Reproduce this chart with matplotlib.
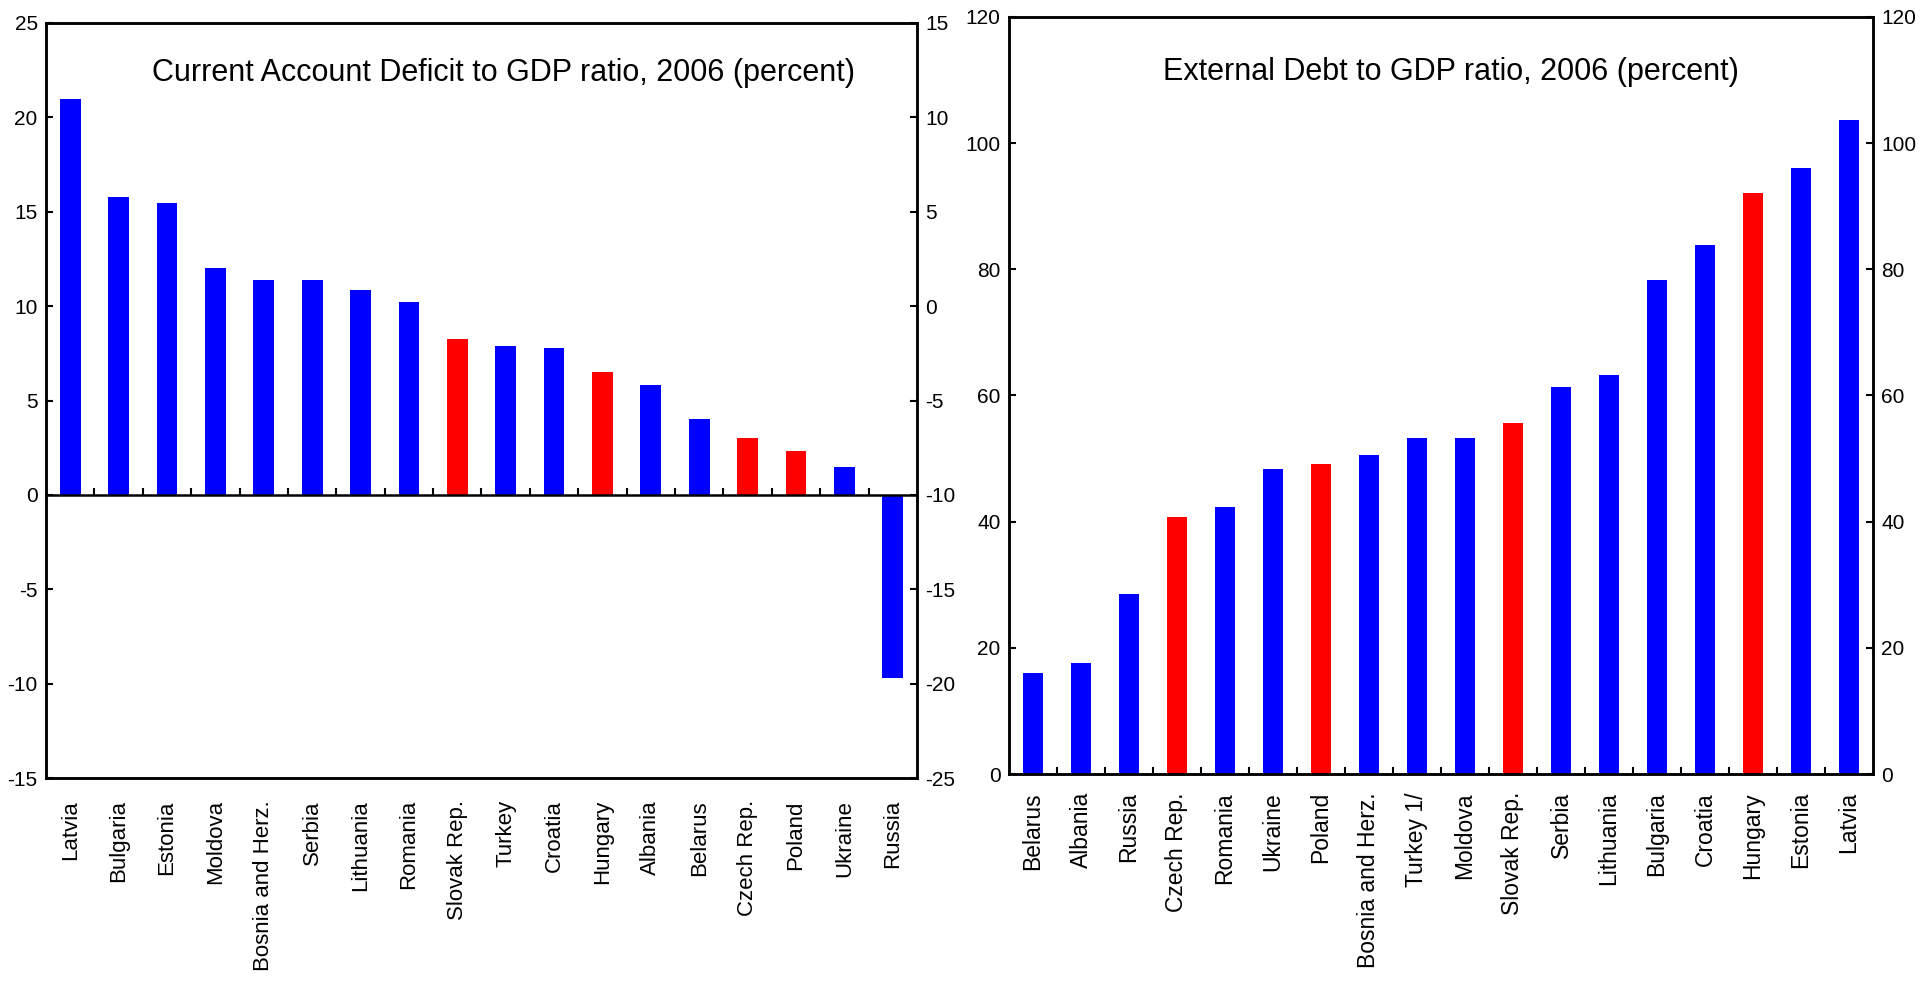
import matplotlib
matplotlib.use('Agg')
import matplotlib.pyplot as plt
from matplotlib.ticker import FixedLocator

plt.rcParams['axes.unicode_minus'] = False  # plain hyphen like the original

# Current account deficit (percent of GDP), 2006
ca_countries = ['Latvia', 'Bulgaria', 'Estonia', 'Moldova', 'Bosnia and Herz.', 'Serbia',
                'Lithuania', 'Romania', 'Slovak Rep.', 'Turkey', 'Croatia', 'Hungary',
                'Albania', 'Belarus', 'Czech Rep.', 'Poland', 'Ukraine', 'Russia']
ca_values = [21.0, 15.8, 15.45, 12.0, 11.4, 11.4, 10.85, 10.2, 8.25, 7.9, 7.8, 6.5,
             5.8, 4.0, 3.0, 2.3, 1.5, -9.7]

# External debt (percent of GDP), 2006
ed_countries = ['Belarus', 'Albania', 'Russia', 'Czech Rep.', 'Romania', 'Ukraine', 'Poland',
                'Bosnia and Herz.', 'Turkey 1/', 'Moldova', 'Slovak Rep.', 'Serbia',
                'Lithuania', 'Bulgaria', 'Croatia', 'Hungary', 'Estonia', 'Latvia']
ed_values = [16.0, 17.6, 28.6, 40.8, 42.4, 48.3, 49.2, 50.6, 53.2, 53.2, 55.7, 61.4,
             63.3, 78.3, 83.9, 92.1, 96.0, 103.6]

# the four new EU members get red bars
red_ones = ['Slovak Rep.', 'Hungary', 'Czech Rep.', 'Poland']

narrow = ['Liberation Sans Narrow', 'Liberation Sans', 'DejaVu Sans']
plain = ['Liberation Sans', 'DejaVu Sans']
BLUE = '#0000FF'
RED = '#FF0000'


def bar_colors(names):
  return [RED if n in red_ones else BLUE for n in names]


def style_y(ax):
  ax.tick_params(axis='y', direction='in', length=5, width=1.5, labelsize=15, pad=6)
  for lab in ax.get_yticklabels():
    lab.set_family(narrow)


fig = plt.figure(figsize=(19.31, 9.86), dpi=100)

# ---- left panel ----
ax1 = fig.add_axes([46/1931, 1-778/986, (917-46)/1931, (778-23)/986])
n = len(ca_countries)
x = list(range(n))
ax1.bar(x, ca_values, width=0.43, color=bar_colors(ca_countries))
ax1.set_xlim(-0.5, n-0.5)
ax1.set_ylim(-15, 25)
ax1.set_yticks(range(-15, 26, 5))
ax1.axhline(0, color='black', lw=1.8)
# small boundary ticks sitting on the zero line
ax1.vlines([i+0.5 for i in range(n-1)], 0, 0.37, color='black', lw=1.5)
ax1.set_xticks(x)
ax1.set_xticklabels(ca_countries, rotation=90, fontsize=16, family=plain)
ax1.tick_params(axis='x', length=0, pad=16)
style_y(ax1)
ax1.text(0.525, 0.934, 'Current Account Deficit to GDP ratio, 2006 (percent)',
         transform=ax1.transAxes, ha='center', va='center', fontsize=22, family=narrow)

ax1r = ax1.twinx()
ax1r.set_ylim(-25, 15)
ax1r.set_yticks(range(-25, 16, 5))
style_y(ax1r)

for a in (ax1, ax1r):
  for s in a.spines.values():
    s.set_linewidth(1.8)

# ---- right panel ----
ax2 = fig.add_axes([1009/1931, 1-774/986, (1873-1009)/1931, (774-17)/986])
m = len(ed_countries)
x2 = list(range(m))
ax2.bar(x2, ed_values, width=0.40, color=bar_colors(ed_countries))
ax2.set_xlim(-0.5, m-0.5)
ax2.set_ylim(0, 120)
ax2.set_yticks(range(0, 121, 20))
ax2.set_xticks(x2)
ax2.set_xticklabels(ed_countries, rotation=90, fontsize=16.5, family=plain)
ax2.xaxis.set_minor_locator(FixedLocator([i+0.5 for i in range(m-1)]))
ax2.tick_params(axis='x', which='major', length=0, pad=13)
ax2.tick_params(axis='x', which='minor', direction='in', length=5, width=1.5)
style_y(ax2)
ax2.text(0.512, 0.927, 'External Debt to GDP ratio, 2006 (percent)',
         transform=ax2.transAxes, ha='center', va='center', fontsize=22, family=narrow)

ax2r = ax2.twinx()
ax2r.set_ylim(0, 120)
ax2r.set_yticks(range(0, 121, 20))
style_y(ax2r)

for a in (ax2, ax2r):
  for s in a.spines.values():
    s.set_linewidth(1.8)

fig.savefig('out.png', dpi=100)
